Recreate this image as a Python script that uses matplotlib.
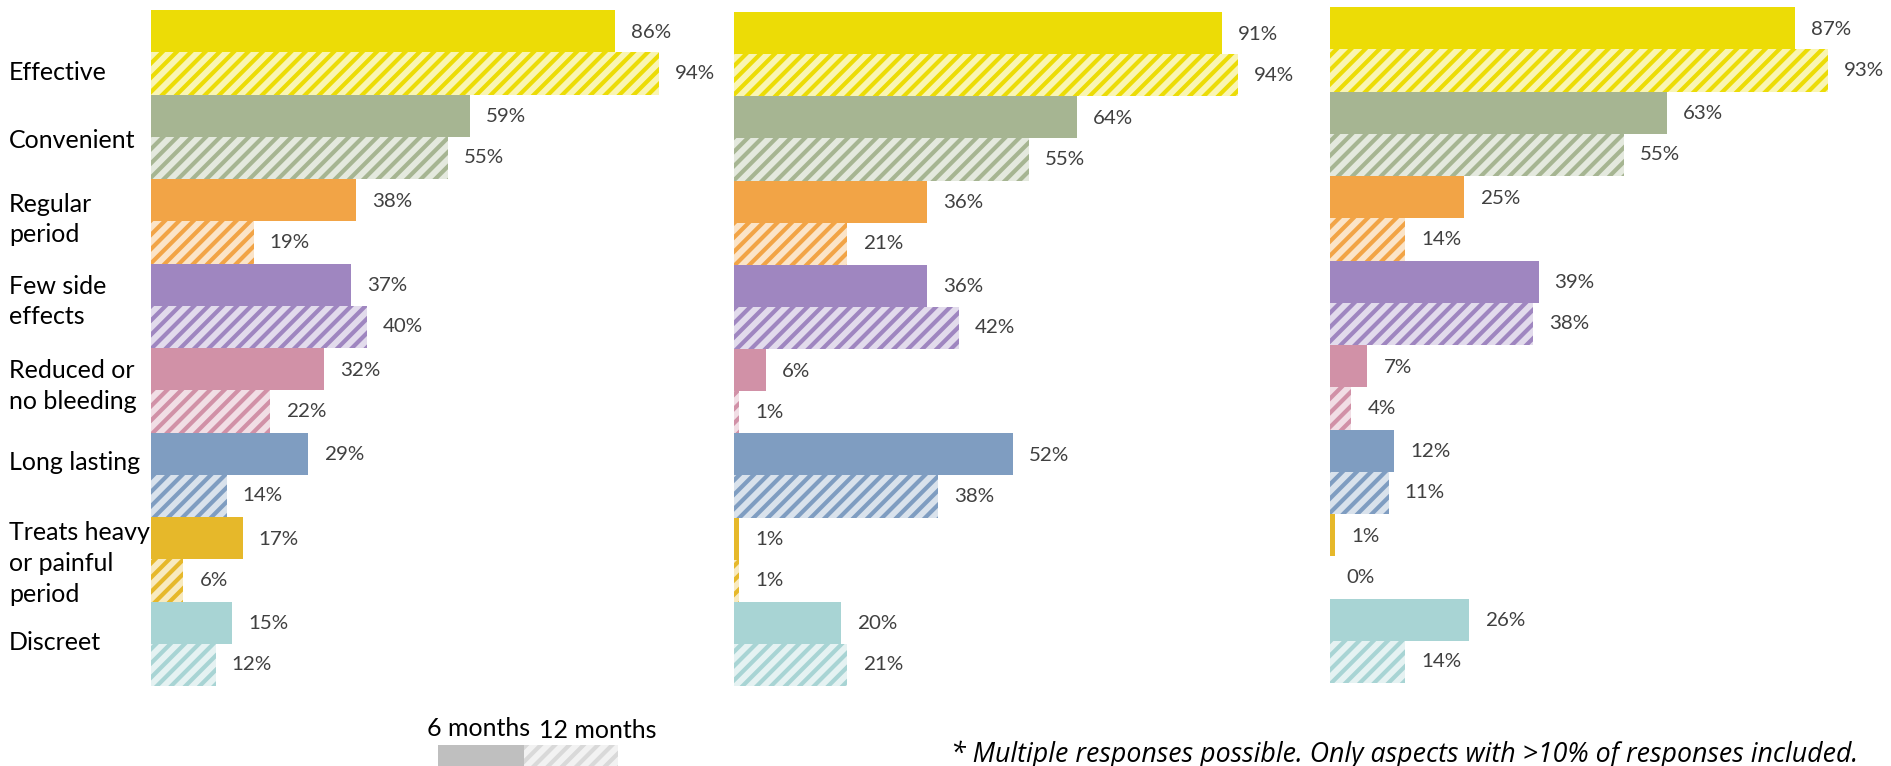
import matplotlib
matplotlib.use("Agg")
import matplotlib.pyplot as plt
from matplotlib.patches import Rectangle
from matplotlib.colors import to_rgb
from matplotlib.backend_bases import GraphicsContextBase
import numpy as np

# ---- data -------------------------------------------------------------
categories = ["Effective", "Convenient", "Regular\nperiod", "Few side\neffects",
              "Reduced or\nno bleeding", "Long lasting", "Treats heavy\nor painful\nperiod",
              "Discreet"]

# share of responses (%) per panel: 6 months / 12 months
panel1_6m = [86, 59, 38, 37, 32, 29, 17, 15]
panel1_12m = [94, 55, 19, 40, 22, 14, 6, 12]
panel2_6m = [91, 64, 36, 36, 6, 52, 1, 20]
panel2_12m = [94, 55, 21, 42, 1, 38, 1, 21]
panel3_6m = [87, 63, 25, 39, 7, 12, 1, 26]
panel3_12m = [93, 55, 14, 38, 4, 11, 0, 14]

series_labels = ["6 months", "12 months"]
footnote = "* Multiple responses possible. Only aspects with >10% of responses included."

colors = ["#ecdc06", "#a6b592", "#f2a446", "#9f86c0",
          "#d191a7", "#7f9dc1", "#e6b82a", "#a8d4d4"]

# ---- style ------------------------------------------------------------
DPI = 100
W, H = 1891, 766
plt.rcParams["font.family"] = ["Lato", "DejaVu Sans"]
plt.rcParams["hatch.linewidth"] = 3.0

# denser diagonal stripes than the stock '/' hatch
_hatch_path = GraphicsContextBase.get_hatch_path
GraphicsContextBase.get_hatch_path = lambda self, density=14.0: _hatch_path(self, density)


def tint(c, a=0.25):
    r, g, b = to_rgb(c)
    return (1 - a * (1 - r), 1 - a * (1 - g), 1 - a * (1 - b))


def px(v):
    """pixels -> points at the figure dpi"""
    return v * 72.0 / DPI


fig = plt.figure(figsize=(W / DPI, H / DPI), dpi=DPI)

# panel boxes in pixels: left, top, bottom, pixel-width of 0..100 %
panels = [
    (panel1_6m, panel1_12m, 151, 10, 686, 540),
    (panel2_6m, panel2_12m, 734, 12, 686, 536),
    (panel3_6m, panel3_12m, 1330, 7, 683, 535),
]

n = len(categories)
ypos = np.arange(n)
value_size = px(20.5)
value_color = "#404040"

axes = []
for v6, v12, left, top, bottom, width in panels:
    ax = fig.add_axes([left / W, 1 - bottom / H, width / W, (bottom - top) / H])
    ax.set_xlim(0, 100)
    ax.set_ylim(n - 0.5, -0.5)
    ax.axis("off")
    ax.barh(ypos - 0.25, v6, height=0.5, color=colors, linewidth=0)
    ax.barh(ypos + 0.25, v12, height=0.5, color=[tint(c, 0.3) for c in colors],
            edgecolor=colors, hatch="/", linewidth=0)
    for yy, val in zip(ypos - 0.25, v6):
        ax.annotate(f"{val}%", (val, yy), xytext=(px(16), px(-1)), textcoords="offset points",
                    ha="left", va="center", fontsize=value_size, color=value_color)
    for yy, val in zip(ypos + 0.25, v12):
        ax.annotate(f"{val}%", (val, yy), xytext=(px(16), 0), textcoords="offset points",
                    ha="left", va="center", fontsize=value_size, color=value_color)
    axes.append(ax)

# category labels to the left of the first panel
label_shift = [0.24, 0.04, -0.02, -0.05, -0.05, -0.14, 0.05, -0.01]
ax0 = axes[0]
trans = matplotlib.transforms.blended_transform_factory(fig.transFigure, ax0.transData)
for i, (lab, dy) in enumerate(zip(categories, label_shift)):
    ax0.text(9 / W, i + dy, lab, transform=trans, ha="left", va="center",
             fontsize=px(25), color="black", linespacing=1.4)

# legend
fig.text(427 / W, 1 - 729 / H, series_labels[0], ha="left", va="center",
         fontsize=px(25), color="black")
fig.text(539 / W, 1 - 731 / H, series_labels[1], ha="left", va="center",
         fontsize=px(25), color="black")
fig.add_artist(Rectangle((438 / W, 0), (524 - 438) / W, (766 - 745) / H,
                         transform=fig.transFigure, facecolor="#bfbfbf", linewidth=0))
fig.add_artist(Rectangle((524 / W, 0), (618 - 524) / W, (766 - 745) / H,
                         transform=fig.transFigure, facecolor="#f2f2f2",
                         edgecolor="#d9d9d9", hatch="/", linewidth=0))

# footnote
fig.text(951 / W, 1 - 755 / H, footnote, ha="left", va="center",
         fontsize=px(26.7), style="italic", color="black",
         family=["Open Sans", "DejaVu Sans"])

fig.savefig("out.png", dpi=DPI)
